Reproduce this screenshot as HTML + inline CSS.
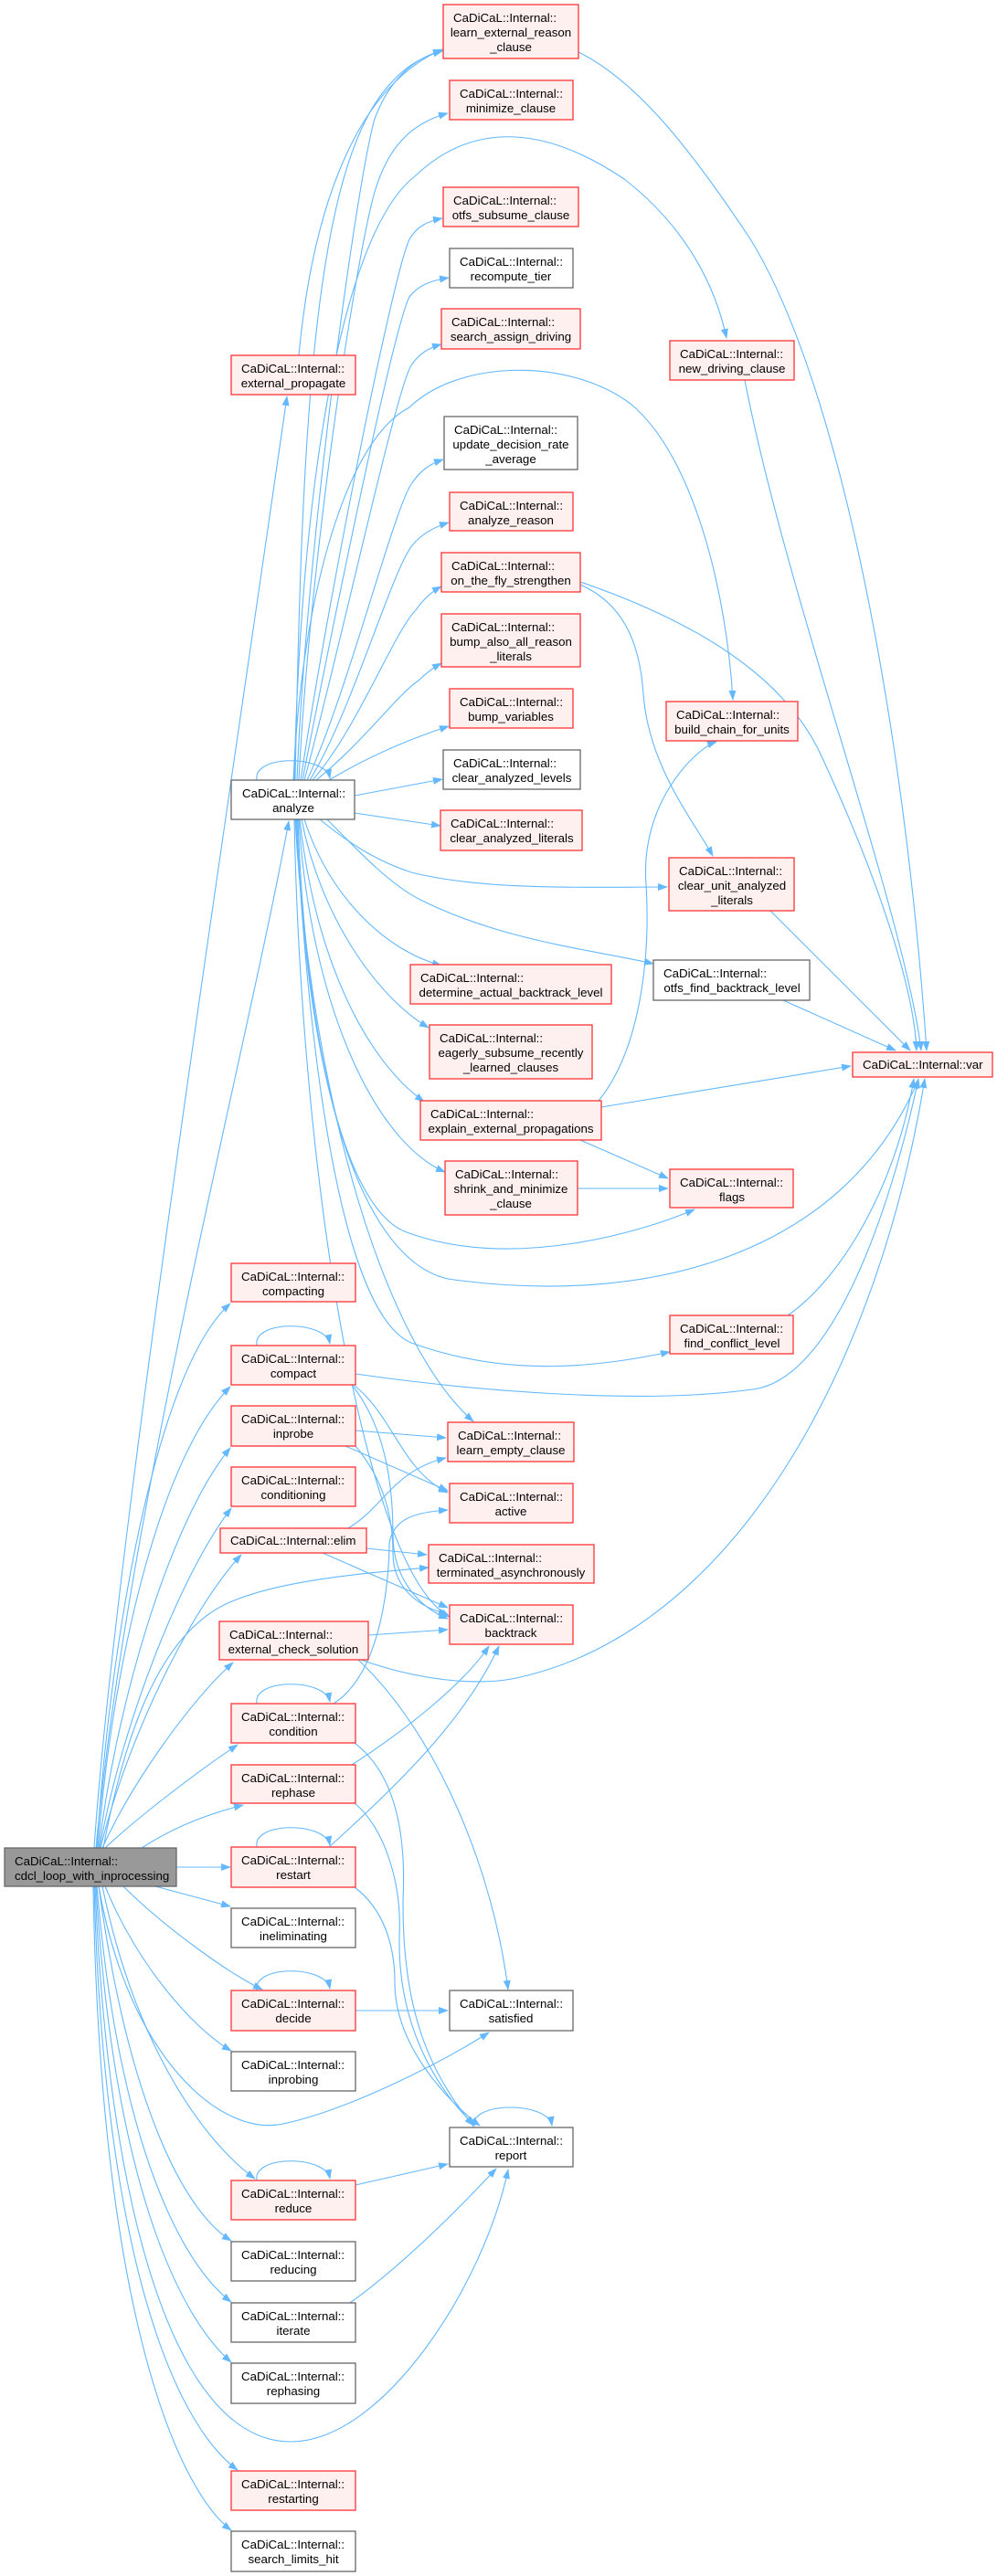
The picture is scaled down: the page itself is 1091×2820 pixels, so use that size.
<!DOCTYPE html>
<html><head><meta charset="utf-8"><style>
html,body{margin:0;padding:0;background:#fff;}
svg{display:block;}
text{font-family:"Liberation Sans",Arial,sans-serif;font-size:13.3px;fill:#000;}
.e{fill:none;stroke:#63b8ff;stroke-width:1.1;}
.r{fill:#fff0f0;stroke:#f33;stroke-width:1.3;}
.g{fill:#fff;stroke:#666;stroke-width:1.3;}
.m{fill:#999;stroke:#666;stroke-width:1.3;}
</style></head><body>
<svg width="1091" height="2820" viewBox="0 0 1091 2820" xmlns="http://www.w3.org/2000/svg">
<defs><marker id="a" markerWidth="11" markerHeight="8" refX="10" refY="4" orient="auto" markerUnits="userSpaceOnUse"><path d="M0,0 L11,4 L0,8 z" fill="#63b8ff"/></marker></defs>
<g class="e" marker-end="url(#a)">
<!-- cdcl edges -->
<path d="M103,2023 C125,1700 240,950 314,434"/>
<path d="M105,2023 C140,1650 270,1150 316,899"/>
<path d="M106,2023 C120,1800 170,1500 252,1427"/>
<path d="M107,2023 C125,1800 180,1590 252,1518"/>
<path d="M108,2023 C130,1850 190,1660 252,1585"/>
<path d="M109,2023 C135,1880 200,1720 253,1651"/>
<path d="M110,2023 C140,1900 210,1760 264,1702"/>
<path d="M112,2023 C145,1950 210,1860 255,1820"/>
<path d="M115,2023 C150,1990 215,1940 260,1910"/>
<path d="M155,2023 C190,2000 230,1985 266,1976"/>
<path d="M193,2044 L252,2044"/>
<path d="M170,2065 L252,2087"/>
<path d="M135,2065 C180,2110 250,2160 287,2178"/>
<path d="M115,2065 C150,2150 210,2220 253,2245"/>
<path d="M108,2065 C140,2250 240,2340 310,2325 C380,2310 480,2260 535,2225"/>
<path d="M112,2065 C150,2250 230,2350 279,2385"/>
<path d="M108,2065 C140,2300 200,2420 253,2453"/>
<path d="M106,2065 C130,2350 200,2480 253,2520"/>
<path d="M105,2065 C125,2400 200,2540 253,2586"/>
<path d="M104,2065 C120,2450 200,2673 318,2673 C420,2673 530,2500 556,2375"/>
<path d="M103,2065 C115,2500 200,2660 260,2704"/>
<path d="M102,2065 C110,2550 200,2730 253,2770"/>
<path d="M113,2023 C140,1880 180,1790 245,1757 C300,1730 400,1722 469,1716"/>
<!-- external_propagate -->
<path d="M327,389 C340,250 380,100 484,54"/>
<!-- analyze up -->
<path d="M325,854 C335,600 390,200 410,130 C425,90 450,65 484,55"/>
<path d="M323,854 C330,500 340,200 420,100 C440,75 460,62 484,56"/>
<path d="M327,854 C340,600 390,280 410,210 C425,160 450,135 490,124"/>
<path d="M329,854 C360,650 430,300 448,262 C456,248 468,242 484,239"/>
<path d="M331,854 C365,680 430,360 448,325 C458,312 472,307 491,304"/>
<path d="M333,854 C370,720 432,430 450,400 C458,388 468,381 483,377"/>
<path d="M336,854 C380,760 430,560 450,530 C460,515 470,508 485,503"/>
<path d="M339,854 C385,780 430,620 452,596 C462,584 475,577 491,572"/>
<path d="M342,854 C390,800 432,690 455,668 C463,656 472,648 483,642"/>
<path d="M346,854 C400,810 435,760 458,745 C466,737 474,731 483,726"/>
<path d="M360,854 C400,830 445,810 491,795"/>
<path d="M322,854 C330,500 380,250 454,193 C520,130 600,140 683,196 C740,240 780,300 795,370"/>
<path d="M321,854 C330,650 380,480 448,446 C500,395 620,390 690,442 C760,500 795,650 802,766"/>
<path d="M388,871 L484,853"/>
<path d="M388,890 L482,904"/>
<path d="M350,897 C390,930 420,945 450,955 C530,975 640,971 730,971"/>
<path d="M358,897 C400,940 430,970 460,985 C550,1030 650,1040 715,1055"/>
<path d="M333,897 C360,980 420,1040 483,1057"/>
<path d="M330,897 C350,1000 410,1090 469,1125"/>
<path d="M328,897 C345,1050 400,1160 464,1206"/>
<path d="M327,897 C340,1100 410,1250 487,1283"/>
<path d="M326,897 C335,1150 380,1330 448,1350 C560,1390 700,1350 760,1324"/>
<path d="M325,897 C335,1200 400,1380 490,1400 C700,1430 920,1380 1005,1182"/>
<path d="M324,897 C340,1200 380,1440 450,1470 C560,1510 660,1495 733,1480"/>
<path d="M323,897 C340,1200 420,1470 518,1556"/>
<path d="M322,897 C330,1300 400,1720 492,1770"/>
<path d="M281,854 C276,826 356,826 361,852"/>
<!-- right side -->
<path d="M633,57 C700,90 760,170 820,260 C920,420 990,800 1014,1150"/>
<path d="M815,416 C860,650 990,1000 1008,1150"/>
<path d="M635,637 C760,680 860,740 900,830 C960,960 1000,1080 1003,1150"/>
<path d="M635,640 C680,660 700,700 704,760 C710,840 760,900 780,937"/>
<path d="M843,997 L996,1150"/>
<path d="M857,1095 L980,1150"/>
<path d="M658,1212 L931,1167"/>
<path d="M635,1248 L731,1290"/>
<path d="M655,1205 C700,1150 712,1050 707,968 C700,880 760,820 784,812"/>
<path d="M632,1301 L731,1301"/>
<path d="M862,1440 C920,1400 980,1300 1000,1181"/>
<path d="M389,1504 C500,1520 700,1540 830,1520 C920,1500 980,1300 1005,1181"/>
<path d="M395,1817 C460,1840 520,1845 560,1838 C800,1790 960,1500 1012,1181"/>
<!-- middle lower -->
<path d="M388,1517 C430,1550 440,1610 490,1634"/>
<path d="M385,1516 C420,1560 430,1620 430,1680 C430,1730 460,1760 490,1772"/>
<path d="M281,1473 C276,1445 356,1445 361,1471"/>
<path d="M389,1566 L488,1574"/>
<path d="M378,1583 L490,1632"/>
<path d="M389,1583 C420,1620 430,1660 430,1700 C430,1740 460,1760 490,1767"/>
<path d="M381,1673 C420,1650 430,1610 488,1596"/>
<path d="M401,1695 L467,1702"/>
<path d="M353,1700 L490,1760"/>
<path d="M403,1790 L490,1784"/>
<path d="M392,1817 C480,1900 540,2050 556,2178"/>
<path d="M365,1865 C420,1830 426,1720 426,1690 C430,1660 460,1655 490,1653"/>
<path d="M281,1865 C276,1837 356,1837 361,1863"/>
<path d="M388,1908 C430,1940 445,2000 441,2080 C440,2200 470,2270 518,2327"/>
<path d="M385,1932 C450,1890 510,1840 535,1802"/>
<path d="M388,1974 C420,2000 440,2060 437,2120 C435,2220 480,2290 520,2327"/>
<path d="M360,2022 C440,1950 510,1880 546,1802"/>
<path d="M281,2022 C276,1994 356,1994 361,2020"/>
<path d="M388,2066 C420,2090 432,2130 432,2170 C432,2240 490,2300 525,2327"/>
<path d="M389,2201 L490,2201"/>
<path d="M281,2179 C276,2151 356,2151 361,2177"/>
<path d="M389,2392 L490,2369"/>
<path d="M281,2387 C276,2359 356,2359 361,2385"/>
<path d="M383,2521 C440,2480 500,2420 543,2374"/>
<path d="M518,2329 C513,2300 600,2300 604,2327"/>
</g>
<!-- nodes -->
<g>
<rect class="r" x="485" y="5" width="148" height="59"/><text x="496" y="24">CaDiCaL::Internal::</text><text x="559" y="40" text-anchor="middle">learn_external_reason</text><text x="559" y="56" text-anchor="middle">_clause</text>
<rect class="r" x="492" y="88" width="135" height="43"/><text x="503" y="107">CaDiCaL::Internal::</text><text x="559" y="123" text-anchor="middle">minimize_clause</text>
<rect class="r" x="485" y="205" width="148" height="43"/><text x="496" y="224">CaDiCaL::Internal::</text><text x="559" y="240" text-anchor="middle">otfs_subsume_clause</text>
<rect class="g" x="492" y="272" width="135" height="43"/><text x="503" y="291">CaDiCaL::Internal::</text><text x="559" y="307" text-anchor="middle">recompute_tier</text>
<rect class="r" x="483" y="338" width="152" height="44"/><text x="494" y="357">CaDiCaL::Internal::</text><text x="559" y="373" text-anchor="middle">search_assign_driving</text>
<rect class="r" x="733" y="373" width="136" height="43"/><text x="744" y="392">CaDiCaL::Internal::</text><text x="801" y="408" text-anchor="middle">new_driving_clause</text>
<rect class="r" x="253" y="389" width="136" height="43"/><text x="264" y="408">CaDiCaL::Internal::</text><text x="321" y="424" text-anchor="middle">external_propagate</text>
<rect class="g" x="486" y="456" width="146" height="58"/><text x="497" y="475">CaDiCaL::Internal::</text><text x="559" y="491" text-anchor="middle">update_decision_rate</text><text x="559" y="507" text-anchor="middle">_average</text>
<rect class="r" x="492" y="539" width="135" height="42"/><text x="503" y="558">CaDiCaL::Internal::</text><text x="559" y="574" text-anchor="middle">analyze_reason</text>
<rect class="r" x="483" y="605" width="152" height="43"/><text x="494" y="624">CaDiCaL::Internal::</text><text x="559" y="640" text-anchor="middle">on_the_fly_strengthen</text>
<rect class="r" x="483" y="672" width="152" height="58"/><text x="494" y="691">CaDiCaL::Internal::</text><text x="559" y="707" text-anchor="middle">bump_also_all_reason</text><text x="559" y="723" text-anchor="middle">_literals</text>
<rect class="r" x="492" y="754" width="135" height="43"/><text x="503" y="773">CaDiCaL::Internal::</text><text x="559" y="789" text-anchor="middle">bump_variables</text>
<rect class="r" x="729" y="768" width="144" height="43"/><text x="740" y="787">CaDiCaL::Internal::</text><text x="801" y="803" text-anchor="middle">build_chain_for_units</text>
<rect class="g" x="485" y="821" width="150" height="43"/><text x="496" y="840">CaDiCaL::Internal::</text><text x="560" y="856" text-anchor="middle">clear_analyzed_levels</text>
<rect class="g" x="253" y="854" width="135" height="43"/><text x="265" y="873">CaDiCaL::Internal::</text><text x="321" y="889" text-anchor="middle">analyze</text>
<rect class="r" x="482" y="887" width="155" height="44"/><text x="493" y="906">CaDiCaL::Internal::</text><text x="560" y="922" text-anchor="middle">clear_analyzed_literals</text>
<rect class="r" x="732" y="939" width="137" height="58"/><text x="743" y="958">CaDiCaL::Internal::</text><text x="801" y="974" text-anchor="middle">clear_unit_analyzed</text><text x="801" y="990" text-anchor="middle">_literals</text>
<rect class="g" x="715" y="1051" width="171" height="44"/><text x="726" y="1070">CaDiCaL::Internal::</text><text x="801" y="1086" text-anchor="middle">otfs_find_backtrack_level</text>
<rect class="r" x="449" y="1056" width="220" height="43"/><text x="460" y="1075">CaDiCaL::Internal::</text><text x="559" y="1091" text-anchor="middle">determine_actual_backtrack_level</text>
<rect class="r" x="470" y="1122" width="178" height="59"/><text x="481" y="1141">CaDiCaL::Internal::</text><text x="559" y="1157" text-anchor="middle">eagerly_subsume_recently</text><text x="559" y="1173" text-anchor="middle">_learned_clauses</text>
<rect class="r" x="933" y="1152" width="153" height="27"/><text x="944" y="1170">CaDiCaL::Internal::var</text>
<rect class="r" x="460" y="1205" width="198" height="43"/><text x="471" y="1224">CaDiCaL::Internal::</text><text x="559" y="1240" text-anchor="middle">explain_external_propagations</text>
<rect class="r" x="487" y="1271" width="145" height="59"/><text x="498" y="1290">CaDiCaL::Internal::</text><text x="559" y="1306" text-anchor="middle">shrink_and_minimize</text><text x="559" y="1322" text-anchor="middle">_clause</text>
<rect class="r" x="733" y="1280" width="135" height="42"/><text x="744" y="1299">CaDiCaL::Internal::</text><text x="801" y="1315" text-anchor="middle">flags</text>
<rect class="r" x="253" y="1383" width="136" height="42"/><text x="264" y="1402">CaDiCaL::Internal::</text><text x="321" y="1418" text-anchor="middle">compacting</text>
<rect class="r" x="733" y="1440" width="135" height="42"/><text x="744" y="1459">CaDiCaL::Internal::</text><text x="801" y="1475" text-anchor="middle">find_conflict_level</text>
<rect class="r" x="253" y="1473" width="136" height="43"/><text x="264" y="1492">CaDiCaL::Internal::</text><text x="321" y="1508" text-anchor="middle">compact</text>
<rect class="r" x="253" y="1539" width="136" height="44"/><text x="264" y="1558">CaDiCaL::Internal::</text><text x="321" y="1574" text-anchor="middle">inprobe</text>
<rect class="r" x="490" y="1557" width="138" height="43"/><text x="501" y="1576">CaDiCaL::Internal::</text><text x="559" y="1592" text-anchor="middle">learn_empty_clause</text>
<rect class="r" x="253" y="1606" width="136" height="43"/><text x="264" y="1625">CaDiCaL::Internal::</text><text x="321" y="1641" text-anchor="middle">conditioning</text>
<rect class="r" x="492" y="1624" width="135" height="43"/><text x="503" y="1643">CaDiCaL::Internal::</text><text x="559" y="1659" text-anchor="middle">active</text>
<rect class="r" x="241" y="1673" width="160" height="27"/><text x="252" y="1691">CaDiCaL::Internal::elim</text>
<rect class="r" x="469" y="1691" width="181" height="42"/><text x="480" y="1710">CaDiCaL::Internal::</text><text x="559" y="1726" text-anchor="middle">terminated_asynchronously</text>
<rect class="r" x="492" y="1757" width="135" height="43"/><text x="503" y="1776">CaDiCaL::Internal::</text><text x="559" y="1792" text-anchor="middle">backtrack</text>
<rect class="r" x="240" y="1775" width="163" height="42"/><text x="251" y="1794">CaDiCaL::Internal::</text><text x="321" y="1810" text-anchor="middle">external_check_solution</text>
<rect class="r" x="253" y="1865" width="136" height="43"/><text x="264" y="1884">CaDiCaL::Internal::</text><text x="321" y="1900" text-anchor="middle">condition</text>
<rect class="r" x="253" y="1932" width="136" height="42"/><text x="264" y="1951">CaDiCaL::Internal::</text><text x="321" y="1967" text-anchor="middle">rephase</text>
<rect class="m" x="5" y="2023" width="188" height="42"/><text x="16" y="2042">CaDiCaL::Internal::</text><text x="16" y="2058">cdcl_loop_with_inprocessing</text>
<rect class="r" x="253" y="2022" width="136" height="44"/><text x="264" y="2041">CaDiCaL::Internal::</text><text x="321" y="2057" text-anchor="middle">restart</text>
<rect class="g" x="253" y="2089" width="136" height="43"/><text x="264" y="2108">CaDiCaL::Internal::</text><text x="321" y="2124" text-anchor="middle">ineliminating</text>
<rect class="r" x="253" y="2179" width="136" height="44"/><text x="264" y="2198">CaDiCaL::Internal::</text><text x="321" y="2214" text-anchor="middle">decide</text>
<rect class="g" x="492" y="2179" width="135" height="44"/><text x="503" y="2198">CaDiCaL::Internal::</text><text x="559" y="2214" text-anchor="middle">satisfied</text>
<rect class="g" x="253" y="2246" width="136" height="43"/><text x="264" y="2265">CaDiCaL::Internal::</text><text x="321" y="2281" text-anchor="middle">inprobing</text>
<rect class="g" x="492" y="2329" width="135" height="43"/><text x="503" y="2348">CaDiCaL::Internal::</text><text x="559" y="2364" text-anchor="middle">report</text>
<rect class="r" x="253" y="2387" width="136" height="43"/><text x="264" y="2406">CaDiCaL::Internal::</text><text x="321" y="2422" text-anchor="middle">reduce</text>
<rect class="g" x="253" y="2454" width="136" height="43"/><text x="264" y="2473">CaDiCaL::Internal::</text><text x="321" y="2489" text-anchor="middle">reducing</text>
<rect class="g" x="253" y="2521" width="136" height="43"/><text x="264" y="2540">CaDiCaL::Internal::</text><text x="321" y="2556" text-anchor="middle">iterate</text>
<rect class="g" x="253" y="2587" width="136" height="44"/><text x="264" y="2606">CaDiCaL::Internal::</text><text x="321" y="2622" text-anchor="middle">rephasing</text>
<rect class="r" x="253" y="2705" width="136" height="43"/><text x="264" y="2724">CaDiCaL::Internal::</text><text x="321" y="2740" text-anchor="middle">restarting</text>
<rect class="g" x="253" y="2771" width="136" height="44"/><text x="264" y="2790">CaDiCaL::Internal::</text><text x="321" y="2806" text-anchor="middle">search_limits_hit</text>
</g>
</svg>
</body></html>
